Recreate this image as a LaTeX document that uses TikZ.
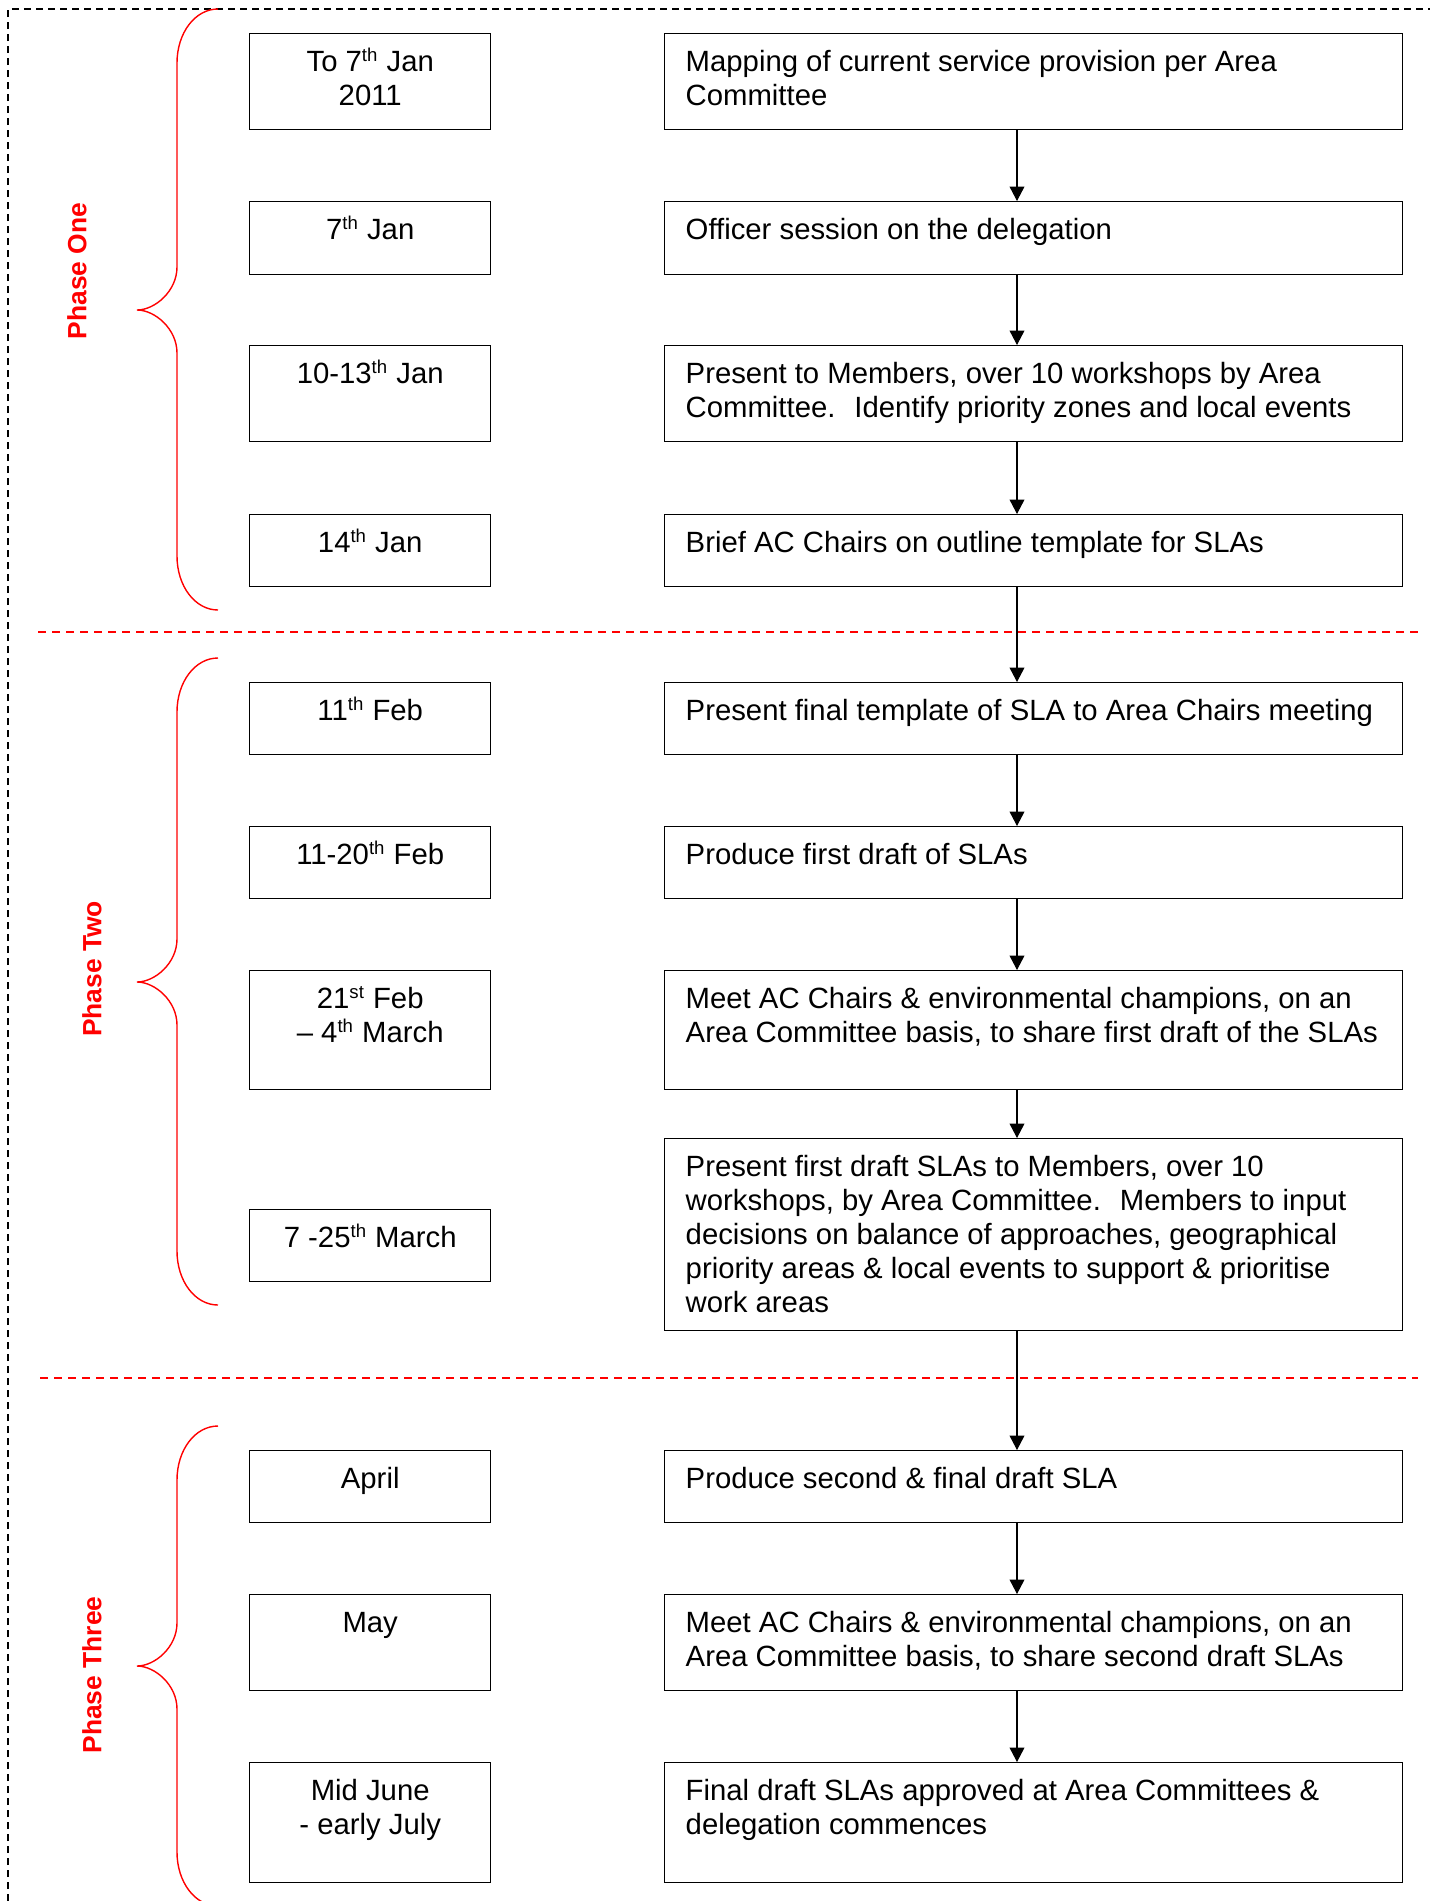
\documentclass[tikz,border=0pt]{standalone}
\usepackage{fontspec}
\setmainfont{Liberation Sans}
\usepackage{tikz}
\usetikzlibrary{arrows.meta}

\newlength{\px}
\setlength{\px}{0.5pt}
\newcommand{\ord}[1]{\textsuperscript{\fontsize{9.3}{9.3}\selectfont #1}}
\newcommand{\datetext}[2]{\parbox[t][#1\px][t]{241\px}{\centering\rule{0pt}{38\px}#2}}
\newcommand{\steptext}[2]{\parbox[t][#1\px][t]{738\px}{\raggedright\leftskip=21\px\relax\rule{0pt}{38\px}#2}}

\tikzset{
  datebox/.style={draw, line width=0.72pt, anchor=north west, inner sep=0pt},
  stepbox/.style={datebox},
  flow/.style={-{Triangle[length=7.2pt,width=7.4pt]}, line width=0.55pt},
  phase/.style={red, rotate=90, font=\fontsize{13.2}{15}\selectfont\bfseries},
  brace/.style={red, line width=0.7pt},
  divider/.style={red, line width=0.7pt, dash pattern=on 4pt off 3pt},
  frame/.style={black, line width=0.6pt, dash pattern=on 3.5pt off 2.5pt},
}

\begin{document}
\begin{tikzpicture}[x=0.5pt, y=-0.5pt, font=\fontsize{14.65}{17}\selectfont]
  \clip (0,0) rectangle (1430,1901);
  \draw[frame] (8,1901) -- (8,9) -- (1430,9);

  % phase one
  \node[datebox] (d1) at (249,33) {\datetext{96}{To 7\ord{th} Jan\\2011}};
  \node[stepbox] (s1) at (664,33) {\steptext{96}{Mapping of current service provision per Area\\Committee}};
  \node[datebox] (d2) at (249,201) {\datetext{73}{7\ord{th} Jan}};
  \node[stepbox] (s2) at (664,201) {\steptext{73}{Officer session on the delegation}};
  \node[datebox] (d3) at (249,345) {\datetext{96}{10-13\ord{th} Jan}};
  \node[stepbox] (s3) at (664,345) {\steptext{96}{Present to Members, over 10 workshops by Area\\Committee.~ Identify priority zones and local events}};
  \node[datebox] (d4) at (249,514) {\datetext{72}{14\ord{th} Jan}};
  \node[stepbox] (s4) at (664,514) {\steptext{72}{Brief AC Chairs on outline template for SLAs}};

  % phase two
  \node[datebox] (d5) at (249,682) {\datetext{72}{11\ord{th} Feb}};
  \node[stepbox] (s5) at (664,682) {\steptext{72}{Present final template of SLA to Area Chairs meeting}};
  \node[datebox] (d6) at (249,826) {\datetext{72}{11-20\ord{th} Feb}};
  \node[stepbox] (s6) at (664,826) {\steptext{72}{Produce first draft of SLAs}};
  \node[datebox] (d7) at (249,970) {\datetext{119}{21\ord{st} Feb\\– 4\ord{th} March}};
  \node[stepbox] (s7) at (664,970) {\steptext{119}{Meet AC Chairs \& environmental champions, on an\\Area Committee basis, to share first draft of the SLAs}};
  \node[datebox] (d8) at (249,1209) {\datetext{72}{7 -25\ord{th} March}};
  \node[stepbox] (s8) at (664,1138) {\steptext{192}{Present first draft SLAs to Members, over 10\\workshops, by Area Committee.~ Members to input\\decisions on balance of approaches, geographical\\priority areas \& local events to support \& prioritise\\work areas}};

  % phase three
  \node[datebox] (d9) at (249,1450) {\datetext{72}{April}};
  \node[stepbox] (s9) at (664,1450) {\steptext{72}{Produce second \& final draft SLA}};
  \node[datebox] (d10) at (249,1594) {\datetext{96}{May}};
  \node[stepbox] (s10) at (664,1594) {\steptext{96}{Meet AC Chairs \& environmental champions, on an\\Area Committee basis, to share second draft SLAs}};
  \node[datebox] (d11) at (249,1762) {\datetext{120}{Mid June\\- early July}};
  \node[stepbox] (s11) at (664,1762) {\steptext{120}{Final draft SLAs approved at Area Committees \&\\delegation commences}};

  % phase labels and braces
  \node[phase] (ph1) at (77,271) {Phase One};
  \node[phase] (ph2) at (92,969) {Phase Two};
  \node[phase] (ph3) at (92,1675) {Phase Three};
  \draw[brace] (218,9) .. controls (195,9) and (177,33) .. (177,63) -- (177,267)
    .. controls (177,291) and (155,310) .. (137,310)
    .. controls (155,310) and (177,329) .. (177,353) -- (177,556)
    .. controls (177,586) and (195,610) .. (218,610);
  \draw[brace] (218,658) .. controls (195,658) and (177,682) .. (177,712) -- (177,939)
    .. controls (177,963) and (155,982) .. (137,982)
    .. controls (155,982) and (177,1001) .. (177,1025) -- (177,1251)
    .. controls (177,1281) and (195,1305) .. (218,1305);
  \draw[brace] (218,1426) .. controls (195,1426) and (177,1450) .. (177,1480) -- (177,1623)
    .. controls (177,1647) and (155,1666) .. (137,1666)
    .. controls (155,1666) and (177,1685) .. (177,1709) -- (177,1852)
    .. controls (177,1882) and (195,1906) .. (218,1906);

  % phase dividers
  \draw[divider] (38,632) -- (1418,632);
  \draw[divider] (40,1378) -- (1418,1378);

  % flow
  \coordinate (spine) at (1017,0);
  \foreach \a/\b in {s1/s2, s2/s3, s3/s4, s4/s5, s5/s6, s6/s7, s7/s8, s8/s9, s9/s10, s10/s11}
    \draw[flow] (\a.south -| spine) -- (\b.north -| spine);
\end{tikzpicture}
\end{document}
